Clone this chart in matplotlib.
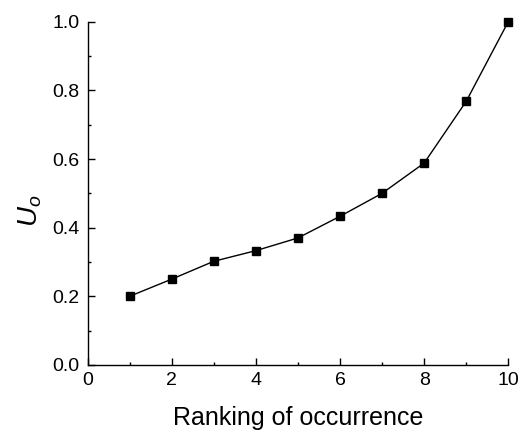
import matplotlib
matplotlib.use("Agg")
import matplotlib.pyplot as plt
from matplotlib.ticker import MultipleLocator

plt.rcParams['font.family'] = ['Liberation Sans', 'DejaVu Sans']
plt.rcParams['mathtext.fontset'] = 'custom'
plt.rcParams['mathtext.rm'] = 'Liberation Sans'
plt.rcParams['mathtext.it'] = 'Liberation Sans:italic'

# Ranking of occurrence vs. U_o
ranking = [1, 2, 3, 4, 5, 6, 7, 8, 9, 10]
u_o = [0.200, 0.250, 0.302, 0.333, 0.370, 0.433, 0.500, 0.588, 0.768, 1.000]

x_ticks = [0, 2, 4, 6, 8, 10]
y_ticks = [0.0, 0.2, 0.4, 0.6, 0.8, 1.0]

fig = plt.figure(figsize=(5.24, 4.38), dpi=100)
ax = fig.add_axes([0.167, 0.1667, 0.803, 0.7838])

ax.plot(ranking, u_o, color='black', linewidth=1.0, marker='s',
        markersize=5.5, markerfacecolor='black', markeredgecolor='black',
        clip_on=False, zorder=3)

ax.set_xlim(0, 10)
ax.set_ylim(0, 1.0)
ax.set_xticks(x_ticks)
ax.set_yticks(y_ticks)
ax.set_xticklabels([str(v) for v in x_ticks])
ax.set_yticklabels([f"{v:.1f}" for v in y_ticks])
ax.xaxis.set_minor_locator(MultipleLocator(1))
ax.yaxis.set_minor_locator(MultipleLocator(0.1))

for side in ('top', 'right'):
    ax.spines[side].set_visible(False)
for side in ('left', 'bottom'):
    ax.spines[side].set_linewidth(1.0)

ax.tick_params(which='major', direction='in', length=5, width=1.0,
               labelsize=14, pad=6)
ax.tick_params(which='minor', direction='in', length=2.5, width=1.0)
ax.tick_params(axis='x', which='major', pad=5)

ax.set_xlabel('Ranking of occurrence', fontsize=18, labelpad=12)
ax.set_ylabel(r'$U_o$', fontsize=20)
ax.yaxis.set_label_coords(-0.103, 0.45)

fig.savefig('out.png', dpi=100)
